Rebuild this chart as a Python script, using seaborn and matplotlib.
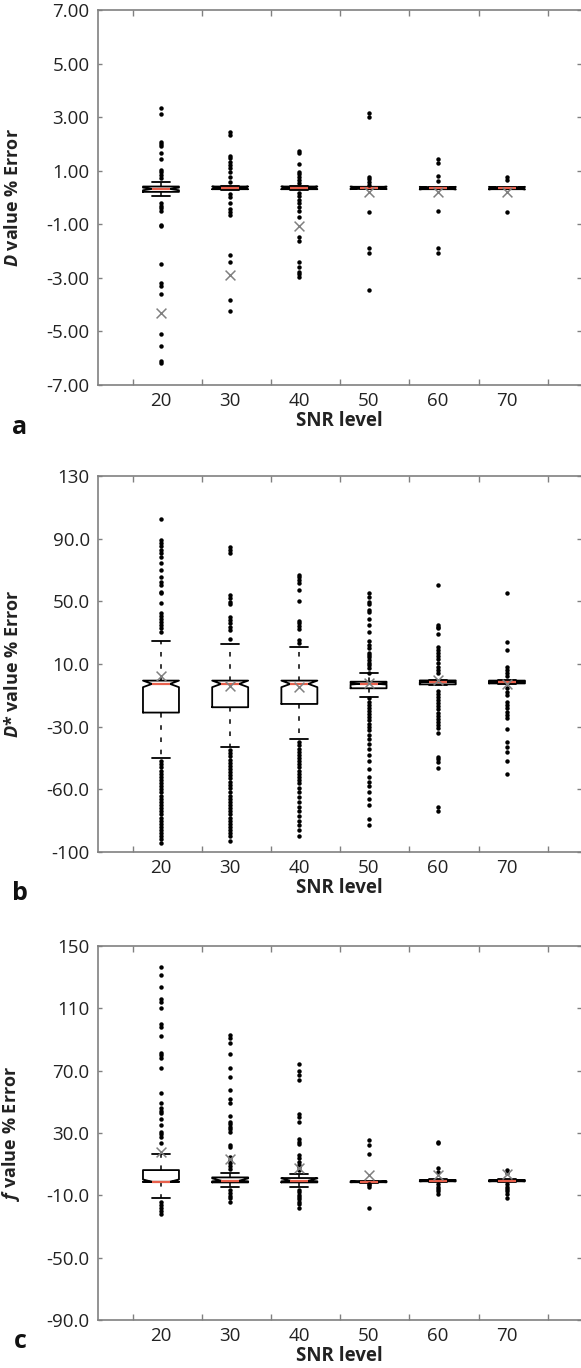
import matplotlib
matplotlib.use("Agg")
import matplotlib.pyplot as plt
import numpy as np
import pandas as pd
import seaborn as sns

snr_levels = ["20", "30", "40", "50", "60", "70"]

# panel a: D value % error
a_q1 = [0.21, 0.31, 0.31, 0.32, 0.31, 0.31]
a_med = [0.32, 0.36, 0.36, 0.36, 0.35, 0.35]
a_q3 = [0.41, 0.41, 0.41, 0.40, 0.39, 0.39]
a_lo = [0.06, 0.29, 0.29, 0.31, 0.30, 0.30]
a_hi = [0.57, 0.44, 0.44, 0.41, 0.40, 0.40]
a_mean = [-4.31, -2.91, -1.06, 0.22, 0.20, 0.22]
a_out = [
    [3.35, 3.11, 2.09, 2.0, 1.92, 1.65, 1.44, 1.03, 0.94, 0.84, 0.72, -0.21, -0.31, -0.40, -0.49,
     -1.03, -1.08, -2.49, -3.20, -3.32, -3.60, -5.09, -5.54, -6.12, -6.18],
    [2.46, 2.34, 1.55, 1.47, 1.34, 1.22, 1.09, 0.97, 0.78, 0.59, 0.13, 0.03, -0.21, -0.44, -0.53,
     -0.65, -2.14, -2.39, -3.82, -4.23],
    [1.75, 1.65, 1.24, 0.97, 0.87, 0.76, 0.66, 0.56, 0.16, 0.06, -0.09, -0.21, -0.34, -0.49, -0.74,
     -1.46, -1.61, -2.39, -2.58, -2.77, -2.85, -2.95],
    [3.15, 3.02, 0.78, 0.68, 0.59, 0.47, -0.53, -1.89, -2.08, -3.44],
    [1.45, 1.30, 0.80, 0.62, -0.50, -1.90, -2.08],
    [0.78, 0.66, -0.53],
]

# panel b: D* value % error
b_q1 = [-21.0, -17.6, -15.5, -5.5, -3.0, -2.4]
b_med = [-2.7, -2.7, -2.7, -2.7, -1.3, -1.3]
b_q3 = [-0.6, -0.6, -0.6, -1.3, -0.5, -0.6]
b_lo = [-50.2, -43.1, -37.8, -10.8, -3.5, -2.8]
b_hi = [24.9, 22.8, 20.7, 4.1, -0.2, -0.2]
b_mean = [2.4, -3.8, -4.9, -2.0, 0.0, -3.0]
b_out = [
    [102.6, 89.2, 87.4, 85.3, 82.8, 80.6, 78.5, 74.7, 70.0, 65.7, 62.5, 60.4, 56.2, 55.1, 49.1,
     42.8, 40.7, 38.5, 37.0, 34.9, 32.8, 30.6, -52, -54, -56, -58, -60, -62, -64, -66, -68, -70,
     -72, -74, -76, -78, -80, -82, -84, -86, -88, -90, -92, -94, -96, -98, -100, -102, -104],
    [84.9, 82.8, 80.6, 54.1, 52.0, 49.8, 48.1, 40.2, 38.1, 36.0, 33.8, 31.7, 26.0, -45, -47, -49,
     -51, -53, -55, -57, -59, -61, -63, -65, -67, -69, -72, -74, -76, -78, -80, -82, -84, -86,
     -88, -90, -92, -94, -96, -98, -100, -103],
    [66.8, 65.3, 63.6, 61.5, 57.2, 50.4, 37.7, 36.0, 34.3, 32.2, 25.3, 23.6, -40, -42, -44, -46,
     -48, -50, -52, -54, -56, -58, -60, -62, -64, -66, -69, -72, -75, -78, -81, -84, -87, -90,
     -93, -96, -100],
    [55.5, 53.0, 49.8, 48.1, 44.5, 43.4, 38.5, 34.9, 30.6, 24.9, 22.2, 20.0, 17.2, 15.8, 14.3,
     12.6, 10.9, 9.4, 7.3, 4.5, -12, -14, -16, -18, -20, -22, -24, -26, -28, -30, -32, -35, -38,
     -41, -44, -48, -52, -57, -62, -65, -68, -72, -76, -80, -89, -93],
    [60.4, 34.9, 33.8, 32.8, 29.2, 20.7, 19.0, 17.2, 15.1, 13.0, 10.5, 8.3, 6.2, 4.1, -7, -9,
     -11, -13, -15, -17, -19, -21, -23, -25, -27, -29, -31, -34, -49.1, -50.8, -52.3, -56.5,
     -81, -84],
    [55.5, 24.3, 19.0, 8.0, 6.2, 4.1, 2.4, -5.5, -7.6, -9.8, -14.0, -16.1, -18.3, -20.4, -22.5,
     -24.6, -31.6, -39.6, -42.8, -45.9, -52, -60],
]

# panel c: f value % error
c_q1 = [-1.3, -1.7, -1.7, -1.6, -1.0, -1.0]
c_med = [-1.3, -0.6, -0.6, -1.3, -0.6, -0.6]
c_q3 = [6.2, 1.5, 1.1, -1.0, -0.2, -0.2]
c_lo = [-12.0, -4.5, -4.5, -2.0, -1.5, -1.5]
c_hi = [16.3, 4.1, 3.7, -0.5, 0.3, 0.3]
c_mean = [18.0, 13.3, 7.3, 3.0, 3.0, 3.7]
c_out = [
    [136.3, 131.4, 123.9, 115.8, 114.2, 110.0, 99.9, 98.2, 92.4, 81.5, 80.0, 77.9, 72.0, 55.5,
     49.4, 45.8, 44.3, 42.6, 38.8, 35.1, 30.8, 29.3, 27.6, 23.7, -14.1, -16.2, -18.4, -19.9, -22.0],
    [92.9, 90.8, 87.9, 80.5, 72.0, 66.0, 57.6, 51.6, 49.4, 40.9, 37.2, 35.8, 34.0, 32.4, 30.8,
     22.3, 20.8, 14.8, 12.6, 10.5, 8.8, 6.7, -6.6, -8.3, -10.5, -12.0, -14.1],
    [74.0, 70.0, 67.0, 64.0, 42.2, 40.5, 37.2, 25.9, 24.4, 22.9, 15.9, 13.8, 11.6, 9.5, 8.0, 6.3,
     -6.6, -8.0, -9.5, -11.0, -12.5, -14.0, -15.5, -18.4],
    [25.5, 22.3, 16.5, -2.5, -3.5, -4.5, -18.4],
    [24.4, 23.4, 7.3, 5.0, -3.0, -4.5, -6.0, -7.5, -9.0],
    [6.2, 4.5, -3.0, -4.5, -6.0, -7.5, -9.0, -12.0],
]

a_ticks = [7, 5, 3, 1, -1, -3, -5, -7]
a_ticklabels = ["7.00", "5.00", "3.00", "1.00", "-1.00", "-3.00", "-5.00", "-7.00"]
b_ticks = [130, 90, 50, 10, -30, -70, -110]
b_ticklabels = ["130", "90.0", "50.0", "10.0", "-30.0", "-60.0", "-100"]
c_ticks = [150, 110, 70, 30, -10, -50, -90]
c_ticklabels = ["150", "110", "70.0", "30.0", "-10.0", "-50.0", "-90.0"]

sns.set_theme(style="ticks")
plt.rcParams["font.family"] = ["Open Sans", "DejaVu Sans"]
plt.rcParams["mathtext.fontset"] = "custom"
plt.rcParams["mathtext.it"] = "Open Sans:italic:bold"
plt.rcParams["mathtext.rm"] = "Open Sans:bold"

W, H = 581, 1368
fig = plt.figure(figsize=(W / 100, H / 100), dpi=100)

GRAY = "#808080"


def draw_panel(top, bottom, q1, med, q3, lo, hi, mean, outliers, cilo, cihi,
               ticks, ticklabels, ylabel, letter, letter_y):
    ax = fig.add_axes([98 / W, 1 - bottom / H, (W - 98) / W, (bottom - top) / H])

    stats = []
    for i in range(len(snr_levels)):
        stats.append(dict(med=med[i], q1=q1[i], q3=q3[i], whislo=lo[i], whishi=hi[i],
                          cilo=cilo[i], cihi=cihi[i], mean=mean[i], fliers=[]))
    ax.bxp(stats, positions=list(range(len(snr_levels))), widths=0.52, capwidths=0.26,
           shownotches=True, showfliers=False, showmeans=False,
           boxprops=dict(color="black", linewidth=1.3),
           medianprops=dict(color="#e8604c", linewidth=1.6),
           whiskerprops=dict(color="black", linewidth=1.1, linestyle=(0, (3, 5))),
           capprops=dict(color="black", linewidth=1.3), zorder=2)

    df = pd.DataFrame({
        "snr": [s for s, vals in zip(snr_levels, outliers) for _ in vals],
        "value": [v for vals in outliers for v in vals],
    })
    sns.stripplot(data=df, x="snr", y="value", order=snr_levels, jitter=False,
                  color="black", size=3.2, linewidth=0, ax=ax, zorder=3)
    sns.scatterplot(x=list(range(len(snr_levels))), y=mean, marker="x", color=GRAY,
                    s=50, linewidth=1.1, ax=ax, zorder=4)

    ax.set_xlim(-0.91, 6.07)
    ax.set_ylim(ticks[-1], ticks[0])
    ax.set_yticks(ticks)
    ax.set_yticklabels(ticklabels)
    ax.tick_params(axis="y", which="major", direction="in", length=3, width=1, color=GRAY,
                   left=True, right=True, labelsize=13.5, pad=6, labelcolor="#222222")
    ax.set_xticks(range(len(snr_levels)))
    ax.set_xticklabels(snr_levels)
    ax.tick_params(axis="x", which="major", length=0, labelsize=13.5, pad=5,
                   labelcolor="#222222")
    ax.set_xticks([i - 0.41 for i in range(len(snr_levels) + 1)], minor=True)
    ax.tick_params(axis="x", which="minor", direction="in", length=4, width=1, color=GRAY,
                   top=True, bottom=True)

    for side in ["left", "bottom", "top"]:
        ax.spines[side].set_color(GRAY)
        ax.spines[side].set_linewidth(1.2)
    ax.spines["right"].set_visible(False)

    ax.set_ylabel(ylabel, fontsize=13, fontweight="bold", color="#222222")
    ax.yaxis.set_label_coords((22 - 98) / (W - 98), 0.5)
    ax.set_xlabel("SNR level", fontsize=13.5, fontweight="bold", color="#222222", labelpad=1)
    fig.text(20 / W, 1 - letter_y / H, letter, fontsize=18, fontweight="bold",
             ha="center", va="center", color="#111111")
    return ax


a_cilo = [m - 0.05 for m in a_med]
a_cihi = [m + 0.05 for m in a_med]
draw_panel(10, 385, a_q1, a_med, a_q3, a_lo, a_hi, a_mean, a_out, a_cilo, a_cihi,
           a_ticks, a_ticklabels, r"$D$ value % Error", "a", 427)

b_cilo = [2 * m - t if i < 3 else m - 0.4 for i, (m, t) in enumerate(zip(b_med, b_q3))]
b_cihi = [t if i < 3 else m + 0.4 for i, (m, t) in enumerate(zip(b_med, b_q3))]
draw_panel(476, 852, b_q1, b_med, b_q3, b_lo, b_hi, b_mean, b_out, b_cilo, b_cihi,
           b_ticks, b_ticklabels, r"$D$* value % Error", "b", 894)

c_cilo = [max(b, m - 0.4) for b, m in zip(c_q1, c_med)]
c_cihi = [min(t, m + 1.5) for t, m in zip(c_q3, c_med)]
draw_panel(946, 1320, c_q1, c_med, c_q3, c_lo, c_hi, c_mean, c_out, c_cilo, c_cihi,
           c_ticks, c_ticklabels, r"$f$ value % Error", "c", 1342)

fig.savefig("out.png", dpi=100)
